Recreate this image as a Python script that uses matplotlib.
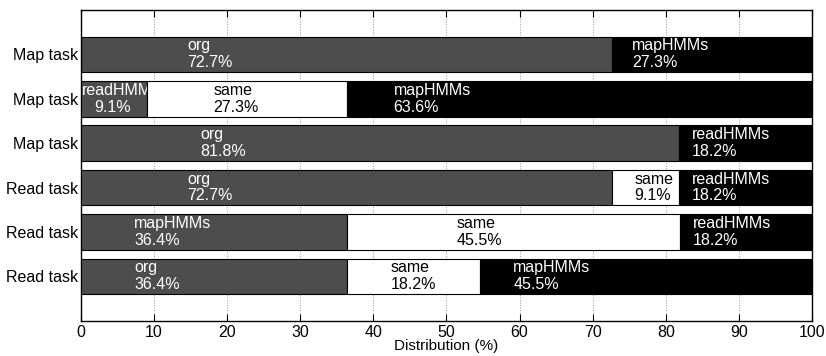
import matplotlib
matplotlib.use("Agg")
import matplotlib.pyplot as plt
import numpy as np

plt.rcParams["font.family"] = ["Liberation Sans", "DejaVu Sans"]

# rows from top to bottom
row_labels = ["Map task", "Map task", "Map task", "Read task", "Read task", "Read task"]
seg_names = [
    ["org", "mapHMMs"],
    ["readHMMs", "same", "mapHMMs"],
    ["org", "readHMMs"],
    ["org", "same", "readHMMs"],
    ["mapHMMs", "same", "readHMMs"],
    ["org", "same", "mapHMMs"],
]
seg_values = [
    [72.7, 27.3],
    [9.1, 27.3, 63.6],
    [81.8, 18.2],
    [72.7, 9.1, 18.2],
    [36.4, 45.5, 18.2],
    [36.4, 18.2, 45.5],
]

dark = "#4d4d4d"
fs = 11.5

fig = plt.figure(figsize=(8.26, 3.56), dpi=100)
ax = fig.add_axes([0.098, 0.099, 0.885, 0.873])

n = len(row_labels)
ypos = np.arange(n, 0, -1)

z = 2
for y, names, vals in zip(ypos, seg_names, seg_values):
    left = 0.0
    for i, (name, v) in enumerate(zip(names, vals)):
        if i == 0:
            fc, tc, frac = dark, "white", 0.2
        elif i == len(vals) - 1:
            fc, tc, frac = "black", "white", 0.1
        else:
            fc, tc, frac = "white", "black", 0.33
        ax.barh(y, v, left=left, height=0.8, color=fc, edgecolor="black",
                linewidth=0.8, zorder=z)
        # narrow first segment: label starts at the axis edge
        tx = left + frac * v
        if i == 0 and v < 15:
            ax.text(0.15, y + 0.02, name, color=tc, fontsize=fs, va="bottom",
                    ha="left", zorder=z + 1)
            ax.text(tx, y - 0.02, f"{v:.1f}%", color=tc, fontsize=fs,
                    va="top", ha="left", zorder=z + 1)
        else:
            ax.text(tx, y, f"{name}\n{v:.1f}%", color=tc, fontsize=fs,
                    va="center", ha="left", linespacing=1.15, zorder=z + 1)
        left += v
        z += 2

ax.set_xlim(0, 100)
ax.set_ylim(0, 7)
ax.set_xticks(np.arange(0, 101, 10))
ax.set_yticks(ypos)
ax.set_yticklabels(row_labels)
ax.tick_params(axis="x", direction="in", top=True, length=5, labelsize=fs, pad=3)
ax.tick_params(axis="y", length=0, labelsize=fs, pad=2)
ax.grid(axis="x", linestyle=":", color="#999999", linewidth=0.7)
ax.set_axisbelow(True)
for s in ax.spines.values():
    s.set_linewidth(1.0)
ax.set_xlabel("Distribution (%)", fontsize=11, labelpad=-1)

fig.savefig("out.png", dpi=100)
